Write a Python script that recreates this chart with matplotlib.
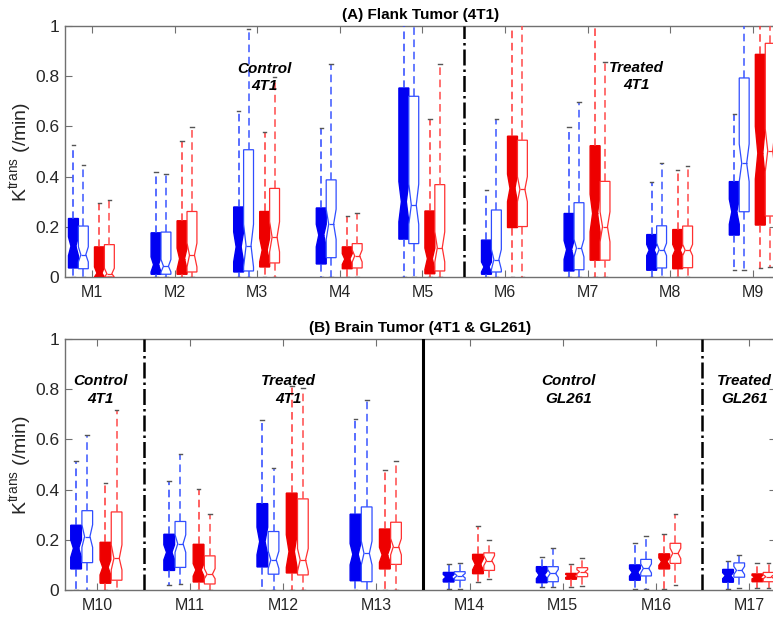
import numpy as np
import matplotlib
matplotlib.use("Agg")
import matplotlib.pyplot as plt

plt.rcParams['font.family'] = ['Liberation Sans', 'DejaVu Sans']

# ---------------- Panel A : Flank Tumor (4T1), M1..M9 ----------------
A_labels = ["M1", "M2", "M3", "M4", "M5", "M6", "M7", "M8", "M9"]
# order of series: filled blue, open blue, filled red, open red
A_whislo = [[0, 0, 0, 0, 0, 0, 0, 0, 0.027],
            [0, 0, 0, 0, 0, 0, 0, 0, 0.029],
            [0, 0, 0, 0, 0, 0, 0, 0, 0.037],
            [0, 0, 0, 0, 0, 0, 0, 0, 0.040]]
A_q1 = [[0.036, 0.011, 0.020, 0.052, 0.151, 0.011, 0.024, 0.027, 0.167],
        [0.033, 0.011, 0.024, 0.077, 0.133, 0.020, 0.029, 0.036, 0.260],
        [0.000, 0.011, 0.040, 0.033, 0.013, 0.197, 0.067, 0.033, 0.207],
        [0.000, 0.020, 0.056, 0.036, 0.024, 0.201, 0.067, 0.037, 0.243]]
A_med = [[0.123, 0.049, 0.120, 0.167, 0.300, 0.040, 0.109, 0.107, 0.260],
         [0.089, 0.043, 0.125, 0.211, 0.287, 0.069, 0.115, 0.109, 0.453],
         [0.015, 0.073, 0.107, 0.071, 0.073, 0.353, 0.253, 0.107, 0.493],
         [0.013, 0.087, 0.159, 0.084, 0.117, 0.349, 0.200, 0.107, 0.503]]
A_q3 = [[0.233, 0.176, 0.279, 0.275, 0.753, 0.147, 0.253, 0.169, 0.380],
        [0.203, 0.179, 0.507, 0.387, 0.720, 0.267, 0.296, 0.204, 0.793],
        [0.120, 0.224, 0.261, 0.120, 0.263, 0.561, 0.523, 0.189, 0.887],
        [0.129, 0.261, 0.353, 0.133, 0.368, 0.545, 0.381, 0.203, 0.931]]
A_whishi = [[0.527, 0.420, 0.663, 0.592, 1.200, 0.347, 0.596, 0.377, 0.649],
            [0.447, 0.412, 0.990, 0.847, 1.200, 0.631, 0.697, 0.453, 1.200],
            [0.293, 0.540, 0.576, 0.243, 0.629, 1.200, 1.200, 0.427, 1.200],
            [0.305, 0.597, 0.797, 0.253, 0.847, 1.200, 0.856, 0.441, 1.200]]
A_cilo = [[0.085, 0.020, 0.060, 0.120, 0.220, 0.020, 0.070, 0.085, 0.210],
          [0.060, 0.020, 0.040, 0.150, 0.210, 0.030, 0.080, 0.085, 0.380],
          [0.000, 0.030, 0.060, 0.050, 0.030, 0.300, 0.180, 0.085, 0.390],
          [0.000, 0.040, 0.100, 0.060, 0.060, 0.300, 0.140, 0.085, 0.420]]
A_cihi = [[0.160, 0.080, 0.180, 0.210, 0.380, 0.060, 0.145, 0.130, 0.310],
          [0.120, 0.070, 0.210, 0.270, 0.370, 0.110, 0.150, 0.135, 0.530],
          [0.040, 0.115, 0.155, 0.093, 0.115, 0.410, 0.330, 0.130, 0.600],
          [0.035, 0.135, 0.220, 0.108, 0.180, 0.400, 0.260, 0.130, 0.590]]

# ---------------- Panel B : Brain Tumor, M10..M17 ----------------
B_labels = ["M10", "M11", "M12", "M13", "M14", "M15", "M16", "M17"]
B_whislo = [[0, 0.020, 0, 0, 0.005, 0.010, 0.004, 0.004],
            [0, 0.023, 0, 0, 0.005, 0.010, 0.004, 0.007],
            [0, 0, 0, 0, 0.032, 0.010, 0.004, 0.007],
            [0, 0, 0, 0, 0.045, 0.017, 0.020, 0.007]]
B_q1 = [[0.084, 0.078, 0.092, 0.037, 0.032, 0.029, 0.039, 0.031],
        [0.109, 0.090, 0.063, 0.033, 0.039, 0.033, 0.056, 0.051],
        [0.027, 0.032, 0.068, 0.084, 0.065, 0.043, 0.084, 0.033],
        [0.039, 0.024, 0.060, 0.102, 0.078, 0.053, 0.106, 0.033]]
B_med = [[0.166, 0.150, 0.193, 0.142, 0.052, 0.060, 0.070, 0.057],
         [0.213, 0.184, 0.120, 0.146, 0.057, 0.066, 0.086, 0.078],
         [0.090, 0.080, 0.153, 0.140, 0.102, 0.056, 0.113, 0.051],
         [0.126, 0.063, 0.120, 0.173, 0.117, 0.073, 0.146, 0.053]]
B_q3 = [[0.258, 0.222, 0.344, 0.302, 0.070, 0.093, 0.100, 0.082],
        [0.316, 0.273, 0.233, 0.331, 0.073, 0.093, 0.122, 0.108],
        [0.190, 0.182, 0.386, 0.243, 0.142, 0.066, 0.144, 0.064],
        [0.311, 0.136, 0.363, 0.270, 0.148, 0.089, 0.186, 0.070]]
B_whishi = [[0.512, 0.435, 0.677, 0.682, 0.105, 0.130, 0.186, 0.117],
            [0.616, 0.543, 0.485, 0.757, 0.108, 0.166, 0.214, 0.138],
            [0.428, 0.404, 0.814, 0.480, 0.254, 0.102, 0.223, 0.108],
            [0.718, 0.302, 0.805, 0.515, 0.201, 0.126, 0.303, 0.106]]
B_cilo = [[0.130, 0.120, 0.140, 0.100, 0.042, 0.045, 0.055, 0.045],
          [0.170, 0.150, 0.085, 0.100, 0.048, 0.050, 0.068, 0.062],
          [0.060, 0.055, 0.090, 0.110, 0.080, 0.050, 0.098, 0.044],
          [0.080, 0.045, 0.075, 0.140, 0.097, 0.065, 0.125, 0.045]]
B_cihi = [[0.200, 0.180, 0.250, 0.185, 0.062, 0.075, 0.085, 0.069],
          [0.260, 0.220, 0.155, 0.195, 0.066, 0.082, 0.104, 0.094],
          [0.120, 0.105, 0.220, 0.170, 0.124, 0.062, 0.128, 0.058],
          [0.180, 0.085, 0.165, 0.205, 0.137, 0.081, 0.167, 0.061]]

yticks = [0, 0.2, 0.4, 0.6, 0.8, 1.0]
ytick_labels = ["0", "0.2", "0.4", "0.6", "0.8", "1"]

# styling
offsets = [-0.225, -0.105, 0.09, 0.21]
filled = [True, False, True, False]
face_cols = ["#0000f2", "white", "#ee0000", "white"]
edge_cols = ["#0000f2", "#2f4dff", "#ee0000", "#ff3030"]
whisk_cols = ["#2a45ff", "#3a56ff", "#ff3535", "#ff4a4a"]
spine_col = "#707070"
text_col = "#262626"

W, H = 773, 617
fig = plt.figure(figsize=(W / 100, H / 100), dpi=100)


def px_axes(left, right, top, bottom):
    return fig.add_axes([left / W, 1 - bottom / H, (right - left) / W, (bottom - top) / H])


def draw_panel(ax, labels, whislo, q1, med, q3, whishi, cilo, cihi, width):
    pos = np.arange(1, len(labels) + 1)
    for k in range(4):
        stats = []
        for i in range(len(labels)):
            stats.append(dict(whislo=whislo[k][i], q1=q1[k][i], med=med[k][i],
                              q3=q3[k][i], whishi=whishi[k][i],
                              cilo=cilo[k][i], cihi=cihi[k][i], fliers=[]))
        ax.bxp(stats, positions=pos + offsets[k], widths=width,
               patch_artist=True, shownotches=True, showfliers=False,
               manage_ticks=False, capwidths=width * 0.35,
               boxprops=dict(facecolor=face_cols[k], edgecolor=edge_cols[k],
                             linewidth=1.0 if filled[k] else 0.9),
               whiskerprops=dict(color=whisk_cols[k], linestyle=(0, (5, 3)),
                                 linewidth=1.1),
               capprops=dict(color="#555555", linewidth=1.0),
               medianprops=dict(color=edge_cols[k], linewidth=0.9),
               zorder=3)
    ax.set_xticks(pos)
    ax.set_xticklabels(labels, fontsize=11.5)
    ax.set_ylim(0, 1)
    ax.set_yticks(yticks)
    ax.set_yticklabels(ytick_labels, fontsize=12.5)
    ax.tick_params(direction="in", top=True, right=True, length=5,
                   color=spine_col, labelcolor=text_col, pad=4)
    ax.tick_params(axis="x", pad=6)
    for s in ax.spines.values():
        s.set_color(spine_col)
        s.set_linewidth(1.0)
    ax.set_ylabel("K$^{\\mathregular{trans}}$ (/min)", fontsize=14, color=text_col)
    ax.yaxis.set_label_coords(-0.044, 0.5)


# Panel A
axA = px_axes(65, 776, 26, 277)
draw_panel(axA, A_labels, A_whislo, A_q1, A_med, A_q3, A_whishi, A_cilo, A_cihi, 0.12)
axA.set_xlim(0.673, 9.28)
axA.set_title("(A) Flank Tumor (4T1)", fontsize=11, fontweight="bold", pad=5)
axA.axvline(5.5, color="black", linestyle="-.", linewidth=1.8, zorder=4)
axA.text(3.09, 0.795, "Control\n4T1", ha="center", va="center", fontsize=11,
         fontweight="bold", style="italic", linespacing=1.3, zorder=5)
axA.text(7.59, 0.80, "Treated\n4T1", ha="center", va="center", fontsize=11,
         fontweight="bold", style="italic", linespacing=1.3, zorder=5)

# Panel B
axB = px_axes(65, 776, 339, 590)
draw_panel(axB, B_labels, B_whislo, B_q1, B_med, B_q3, B_whishi, B_cilo, B_cihi, 0.115)
axB.set_xlim(0.656, 8.29)
axB.set_title("(B) Brain Tumor (4T1 & GL261)", fontsize=11, fontweight="bold", pad=5)
axB.axvline(1.5, color="black", linestyle="-.", linewidth=1.8, zorder=4)
axB.axvline(4.5, color="black", linestyle="-", linewidth=2.2, zorder=4)
axB.axvline(7.5, color="black", linestyle="-.", linewidth=1.8, zorder=4)
for xx, txt in [(1.04, "Control\n4T1"), (3.05, "Treated\n4T1"),
                (6.06, "Control\nGL261"), (7.95, "Treated\nGL261")]:
    axB.text(xx, 0.797, txt, ha="center", va="center", fontsize=11,
             fontweight="bold", style="italic", linespacing=1.3, zorder=5)

fig.savefig("out.png", dpi=100)
